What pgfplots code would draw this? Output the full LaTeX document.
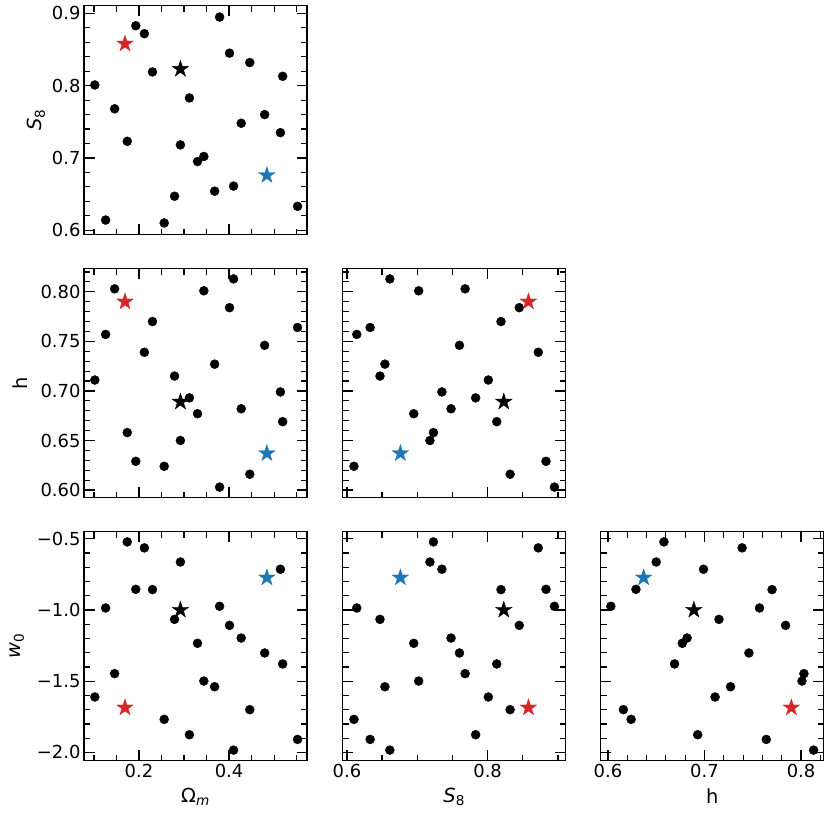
\documentclass[border=0pt]{standalone}
\usepackage{fontspec}
\setmainfont{DejaVu Sans}
\usepackage{pgfplots}
\usepackage{pgfplotstable}
\pgfplotsset{compat=1.18}

\definecolor{tabred}{HTML}{D62728}
\definecolor{tabblue}{HTML}{1F77B4}

% filled five-point star, like matplotlib's '*'
\pgfdeclareplotmark{fstar}{%
  \pgfpathmoveto{\pgfpointpolar{90}{\pgfplotmarksize}}%
  \pgfpathlineto{\pgfpointpolar{126}{0.382*\pgfplotmarksize}}%
  \pgfpathlineto{\pgfpointpolar{162}{\pgfplotmarksize}}%
  \pgfpathlineto{\pgfpointpolar{198}{0.382*\pgfplotmarksize}}%
  \pgfpathlineto{\pgfpointpolar{234}{\pgfplotmarksize}}%
  \pgfpathlineto{\pgfpointpolar{270}{0.382*\pgfplotmarksize}}%
  \pgfpathlineto{\pgfpointpolar{306}{\pgfplotmarksize}}%
  \pgfpathlineto{\pgfpointpolar{342}{0.382*\pgfplotmarksize}}%
  \pgfpathlineto{\pgfpointpolar{18}{\pgfplotmarksize}}%
  \pgfpathlineto{\pgfpointpolar{54}{0.382*\pgfplotmarksize}}%
  \pgfpathclose
  \pgfusepathqfillstroke
}

% the sampled cosmologies
\pgfplotstableread{
Om    S8    h     w0
0.102 0.801 0.711 -1.611
0.126 0.614 0.757 -0.986
0.146 0.768 0.803 -1.447
0.174 0.723 0.658 -0.522
0.193 0.883 0.629 -0.855
0.212 0.872 0.739 -0.564
0.230 0.819 0.770 -0.857
0.256 0.610 0.624 -1.768
0.279 0.647 0.715 -1.066
0.292 0.718 0.650 -0.663
0.312 0.783 0.693 -1.876
0.330 0.695 0.677 -1.234
0.344 0.702 0.801 -1.499
0.368 0.654 0.727 -1.539
0.379 0.895 0.603 -0.974
0.401 0.845 0.784 -1.108
0.410 0.661 0.813 -1.984
0.427 0.748 0.682 -1.197
0.446 0.832 0.616 -1.700
0.479 0.760 0.746 -1.302
0.514 0.735 0.699 -0.714
0.519 0.813 0.669 -1.379
0.552 0.633 0.764 -1.909
}\cosmo
\pgfplotstableread{
Om    S8    h     w0
0.292 0.823 0.689 -1.000
}\fidu
\pgfplotstableread{
Om    S8    h     w0
0.169 0.858 0.790 -1.686
}\redpt
\pgfplotstableread{
Om    S8    h     w0
0.484 0.676 0.637 -0.773
}\bluept

\pgfplotsset{
  corner/.style={
    scale only axis, width=223bp, height=229bp,
    anchor=north west,
    axis line style={line width=1.5bp},
    every tick/.style={black, line width=1.2bp},
    major tick length=10.5bp, minor tick length=6bp,
    tick align=inside,
    tick label style={font=\fontsize{18}{21}\selectfont},
    label style={font=\fontsize{19.5}{23}\selectfont},
    xlabel style={yshift=-4bp},
    /pgf/number format/assume math mode=true,
  },
  omx/.style={xmin=0.078, xmax=0.573, xtick={0.2,0.4},
    minor xtick={0.1,0.15,0.25,0.3,0.35,0.45,0.5,0.55},
    xticklabel style={/pgf/number format/fixed, /pgf/number format/fixed zerofill, /pgf/number format/precision=1}},
  s8x/.style={xmin=0.594, xmax=0.911, xtick={0.6,0.8},
    minor xtick={0.65,0.7,0.75,0.85,0.9},
    xticklabel style={/pgf/number format/fixed, /pgf/number format/fixed zerofill, /pgf/number format/precision=1}},
  hx/.style={xmin=0.5925, xmax=0.8235, xtick={0.6,0.7,0.8},
    minor xtick={0.62,0.64,0.66,0.68,0.72,0.74,0.76,0.78,0.82},
    xticklabel style={/pgf/number format/fixed, /pgf/number format/fixed zerofill, /pgf/number format/precision=1}},
  s8y/.style={ymin=0.594, ymax=0.911, ytick={0.6,0.7,0.8,0.9},
    minor ytick={0.62,0.64,0.66,0.68,0.72,0.74,0.76,0.78,0.82,0.84,0.86,0.88},
    yticklabel style={/pgf/number format/fixed, /pgf/number format/fixed zerofill, /pgf/number format/precision=1}},
  hy/.style={ymin=0.5925, ymax=0.8235, ytick={0.6,0.65,0.7,0.75,0.8},
    minor ytick={0.61,0.62,0.63,0.64,0.66,0.67,0.68,0.69,0.71,0.72,0.73,0.74,0.76,0.77,0.78,0.79,0.81,0.82},
    yticklabel style={/pgf/number format/fixed, /pgf/number format/fixed zerofill, /pgf/number format/precision=2}},
  w0y/.style={ymin=-2.057, ymax=-0.449, ytick={-2,-1.5,-1,-0.5},
    yticklabels={−2.0,−1.5,−1.0,−0.5},
    minor ytick={-1.9,-1.8,-1.7,-1.6,-1.4,-1.3,-1.2,-1.1,-0.9,-0.8,-0.7,-0.6}},
  nox/.style={xticklabels={}},
  noy/.style={yticklabels={}},
}

\newcommand\pts[2]{%
  \addplot[only marks, mark=*, mark size=4.5bp, black] table[x=#1,y=#2]{\cosmo};
  \addplot[only marks, mark=fstar, mark size=8.8bp, black, mark options={line width=0.3bp}] table[x=#1,y=#2]{\fidu};
  \addplot[only marks, mark=fstar, mark size=8.8bp, tabred, mark options={line width=0.3bp}] table[x=#1,y=#2]{\redpt};
  \addplot[only marks, mark=fstar, mark size=8.8bp, tabblue, mark options={line width=0.3bp}] table[x=#1,y=#2]{\bluept};
}

\begin{document}
\begin{tikzpicture}
\path[use as bounding box] (0,0) rectangle (830bp,-822bp);

\begin{axis}[corner, at={(84bp,-5.5bp)}, omx, s8y, nox,
  ylabel={\textit{S}\textsubscript{8}}]
\pts{Om}{S8}
\end{axis}

\begin{axis}[corner, at={(84bp,-268.5bp)}, omx, hy, nox,
  ylabel={h}, ylabel style={yshift=6bp}]
\pts{Om}{h}
\end{axis}

\begin{axis}[corner, at={(342.7bp,-268.5bp)}, s8x, hy, nox, noy]
\pts{S8}{h}
\end{axis}

\begin{axis}[corner, at={(84bp,-531.5bp)}, omx, w0y,
  xlabel={Ω\textsubscript{\textit{m}}}, ylabel={\textit{w}\textsubscript{0}},
  ylabel style={yshift=6bp}]
\pts{Om}{w0}
\end{axis}

\begin{axis}[corner, at={(342.7bp,-531.5bp)}, s8x, w0y, noy,
  xlabel={\textit{S}\textsubscript{8}}]
\pts{S8}{w0}
\end{axis}

\begin{axis}[corner, at={(600.7bp,-531.5bp)}, hx, w0y, noy,
  xlabel={h}]
\pts{h}{w0}
\end{axis}

\end{tikzpicture}
\end{document}
